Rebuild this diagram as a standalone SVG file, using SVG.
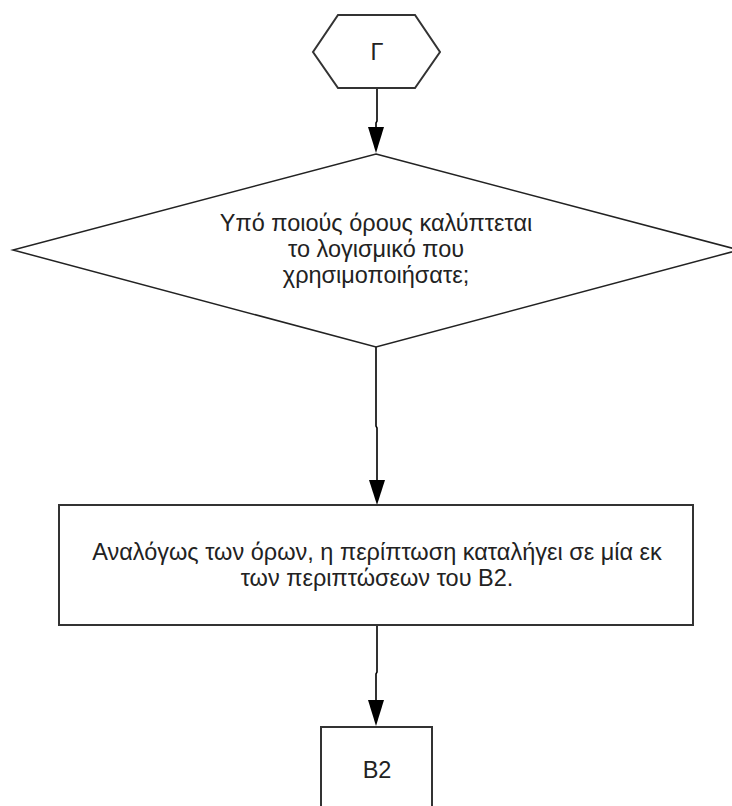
<svg xmlns="http://www.w3.org/2000/svg" width="732" height="806" viewBox="0 0 732 806">
<defs>
<style>
.shape{fill:#fff;stroke:#333;stroke-width:2}
.dia{fill:#fff;stroke:#222;stroke-width:1.5}
.lbl{font-family:"Liberation Sans",Arial,sans-serif;font-size:23.5px;fill:#222;text-anchor:middle}
.conn{fill:none;stroke:#000;stroke-width:1.6}
.head{fill:#000}
</style>
</defs>
<rect width="732" height="806" fill="#fff"/>
<g id="connectors">
<path class="conn" d="M377,89 V121 L376,123 V128" />
<path class="head" d="M368,127 L384,127 L376,153 Z"/>
<path class="conn" d="M376,347 V426 L377,428 V481" />
<path class="head" d="M369,480 L385,480 L377,505 Z"/>
<path class="conn" d="M377,626 V672 L376,674 V701" />
<path class="head" d="M368,700 L384,700 L376,726 Z"/>
</g>
<g id="node-gamma">
<polygon class="shape" points="338,15 415,15 440,52 415,88 338,88 313,52" stroke="#666"/>
<text class="lbl" x="377" y="60">Γ</text>
</g>
<g id="node-question">
<polygon class="dia" points="376,154 739,250 376,347 13,250"/>
<text class="lbl" x="376" y="231">Υπό ποιούς όρους καλύπτεται</text>
<text class="lbl" x="376" y="257">το λογισμικό που</text>
<text class="lbl" x="376" y="283">χρησιμοποιήσατε;</text>
</g>
<g id="node-terms">
<rect class="shape" x="59" y="505" width="634" height="120"/>
<text class="lbl" x="377" y="560">Αναλόγως των όρων, η περίπτωση καταλήγει σε μία εκ</text>
<text class="lbl" x="377" y="586">των περιπτώσεων του Β2.</text>
</g>
<g id="node-b2">
<rect class="shape" x="321" y="727" width="111" height="90"/>
<text class="lbl" x="377" y="778">Β2</text>
</g>
</svg>
